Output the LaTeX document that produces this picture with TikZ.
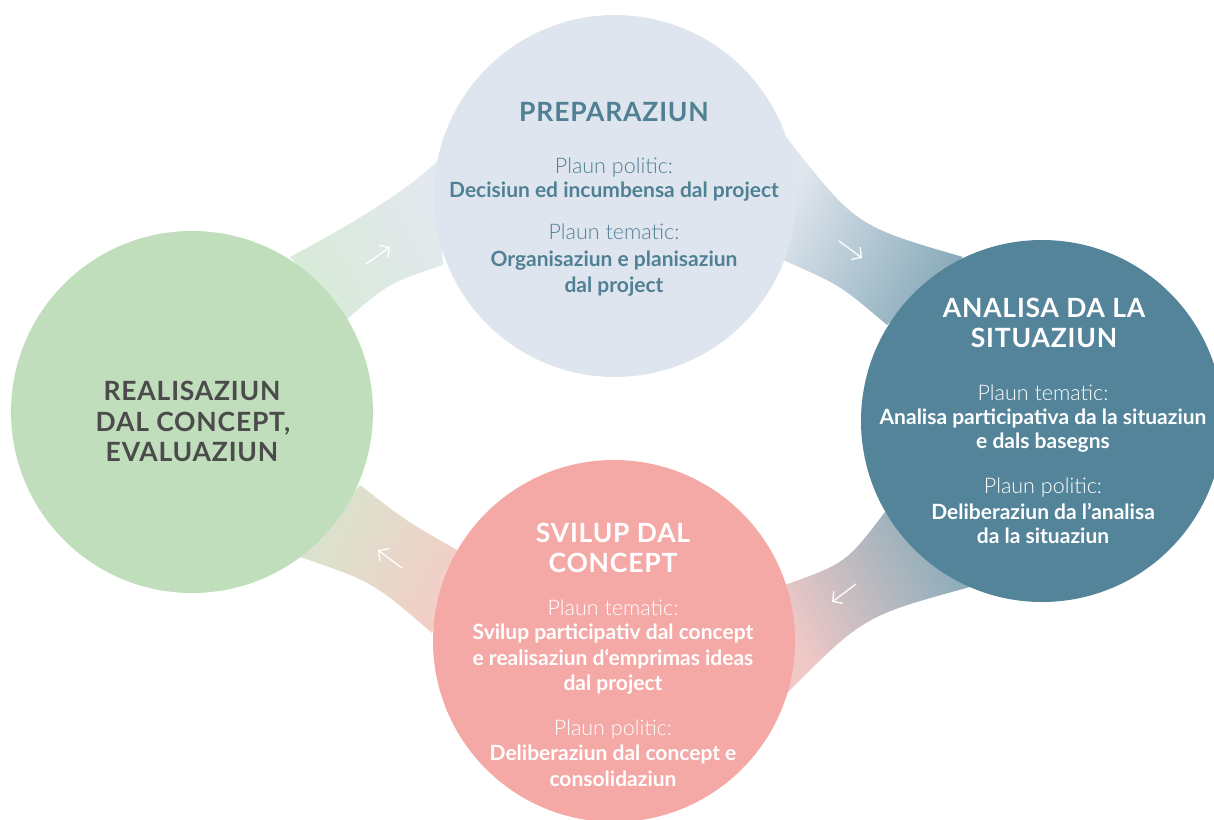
\documentclass[tikz,border=0pt]{standalone}
\usepackage{fontspec}
\setmainfont{Lato}
\newfontfamily\lightfont{Lato Light}
\newfontfamily\titlefont[LetterSpace=3.0]{Lato}
\usetikzlibrary{arrows.meta}
\definecolor{prepfill}{RGB}{223,229,239}
\definecolor{analfill}{RGB}{83,132,154}
\definecolor{svilfill}{RGB}{244,169,166}
\definecolor{realfill}{RGB}{193,222,188}
\definecolor{preptext}{RGB}{80,128,148}
\definecolor{realtext}{RGB}{75,75,75}
\definecolor{tlA}{RGB}{216,234,216}
\definecolor{tlB}{RGB}{227,233,239}
\definecolor{trA}{RGB}{224,230,238}
\definecolor{trB}{RGB}{136,170,185}
\definecolor{brA}{RGB}{240,200,198}
\definecolor{brB}{RGB}{136,172,186}
\definecolor{blA}{RGB}{216,228,206}
\definecolor{blB}{RGB}{242,206,198}
\pgfdeclarehorizontalshading{bandTL}{100bp}{color(0bp)=(tlA); color(25bp)=(tlA); color(75bp)=(tlB); color(100bp)=(tlB)}
\pgfdeclarehorizontalshading{bandTR}{100bp}{color(0bp)=(trA); color(25bp)=(trA); color(75bp)=(trB); color(100bp)=(trB)}
\pgfdeclarehorizontalshading{bandBR}{100bp}{color(0bp)=(brA); color(25bp)=(brA); color(75bp)=(brB); color(100bp)=(brB)}
\pgfdeclarehorizontalshading{bandBL}{100bp}{color(0bp)=(blA); color(25bp)=(blA); color(75bp)=(blB); color(100bp)=(blB)}
\begin{document}
\begin{tikzpicture}[x=1pt,y=-1pt,
  disc/.style={circle, minimum size=362pt, inner sep=0pt, draw=none},
  ln/.style={anchor=base, inner sep=0pt},
  ttl/.style={ln, font=\titlefont\bfseries\fontsize{26.5}{31}\selectfont},
  lgt/.style={ln, font=\lightfont\fontsize{21.5}{25}\selectfont},
  bld/.style={ln, font=\bfseries\fontsize{21}{25}\selectfont},
  cyc/.style={draw=white, line width=1.3pt, -{Straight Barb[length=7pt,width=15pt,line width=1.3pt]}}
]
\useasboundingbox (0,0) rectangle (1214,819);
% bands
\shade[shading=bandTL, shading angle=27]
  (290,257) .. controls (335,233) and (408,192) .. (438,160) -- (443,265)
  .. controls (389,283) .. (346,320) -- cycle;
\shade[shading=bandTR, shading angle=-28]
  (787,138) .. controls (856,226) .. (963,257) -- (887,325)
  .. controls (840,285) .. (783,260) -- cycle;
\shade[shading=bandBR, shading angle=27]
  (970,587) .. controls (864,616) .. (787,693) -- (785,585)
  .. controls (846,563) .. (885,512) -- cycle;
\shade[shading=bandBL, shading angle=-28]
  (300,557) .. controls (373,582) .. (432,633) -- (457,550)
  .. controls (406,521) .. (360,485) -- cycle;
% arrows
\coordinate (a1s) at (366,264); \coordinate (a1e) at (390,247);
\coordinate (a2s) at (839,241); \coordinate (a2e) at (862,258);
\coordinate (a3s) at (856,584); \coordinate (a3e) at (832,602);
\coordinate (a4s) at (402,568); \coordinate (a4e) at (378,550);
\draw[cyc] (a1s) -- (a1e);
\draw[cyc] (a2s) -- (a2e);
\draw[cyc] (a3s) -- (a3e);
\draw[cyc] (a4s) -- (a4e);
% circles
\node[disc, fill=prepfill] (prep) at (615,196) {};
\node[disc, fill=analfill] (anal) at (1042,421) {};
\node[disc, fill=svilfill] (svil) at (614,641) {};
\node[disc, fill=realfill] (real) at (192,412) {};
% PREPARAZIUN
\begin{scope}[every node/.append style={text=preptext}]
\node[ttl] (p0) at (614,121) {PREPARAZIUN};
\node[lgt] (p1) at (614,173) {Plaun politic:};
\node[bld] (p2) at (614,197) {Decisiun ed incumbensa dal project};
\node[lgt] (p3) at (614,239) {Plaun tematic:};
\node[bld] (p4) at (614,266) {Organisaziun e planisaziun};
\node[bld] (p5) at (614,292) {dal project};
\end{scope}
% ANALISA
\begin{scope}[every node/.append style={text=white}]
\node[ttl] (n0) at (1044,317) {ANALISA DA LA};
\node[ttl] (n1) at (1044,347) {SITUAZIUN};
\node[lgt] (n2) at (1043,400) {Plaun tematic:};
\node[bld] (n3) at (1043,424) {Analisa participativa da la situaziun};
\node[bld] (n4) at (1043,448) {e dals basegns};
\node[lgt] (n5) at (1043,493) {Plaun politic:};
\node[bld] (n6) at (1043,519) {Deliberaziun da l’analisa};
\node[bld] (n7) at (1043,543) {da la situaziun};
\end{scope}
% SVILUP
\begin{scope}[every node/.append style={text=white}]
\node[ttl] (s0) at (613,542) {SVILUP DAL};
\node[ttl] (s1) at (613,572) {CONCEPT};
\node[lgt] (s2) at (613,615) {Plaun tematic:};
\node[bld] (s3) at (613,639) {Svilup participativ dal concept};
\node[bld] (s4) at (613,665) {e realisaziun d‘emprimas ideas};
\node[bld] (s5) at (613,690) {dal project};
\node[lgt] (s6) at (613,735) {Plaun politic:};
\node[bld] (s7) at (613,760) {Deliberaziun dal concept e};
\node[bld] (s8) at (613,786) {consolidaziun};
\end{scope}
% REALISAZIUN
\begin{scope}[every node/.append style={text=realtext}]
\node[ttl] (r0) at (192,400) {REALISAZIUN};
\node[ttl] (r1) at (193,431) {DAL CONCEPT,};
\node[ttl] (r2) at (192,461) {EVALUAZIUN};
\end{scope}
\end{tikzpicture}
\end{document}
